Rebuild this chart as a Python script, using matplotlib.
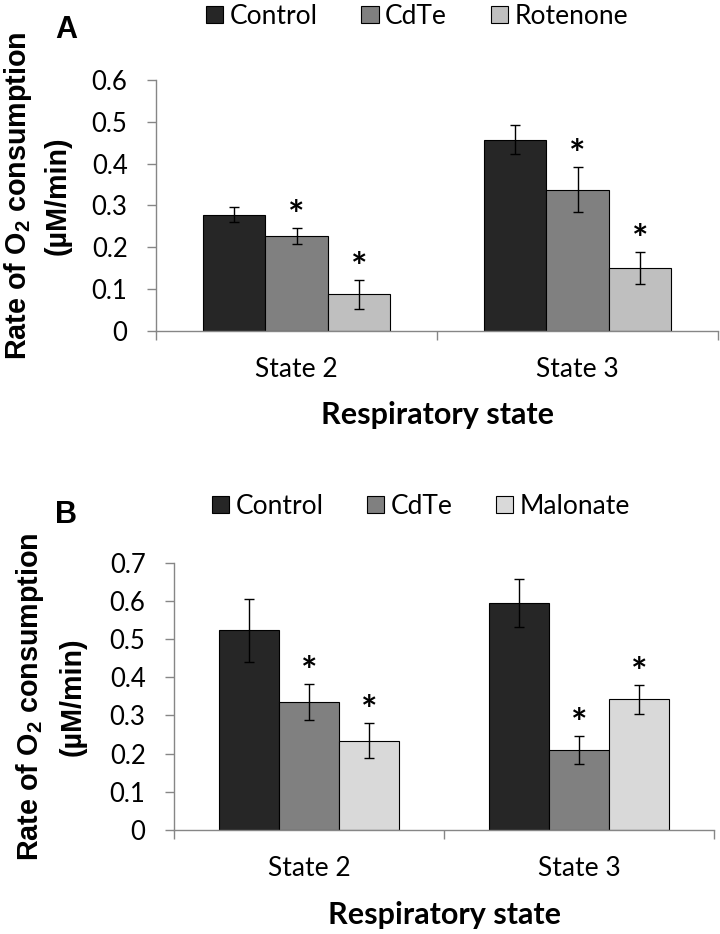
import numpy as np
import matplotlib
matplotlib.use('Agg')
import matplotlib.pyplot as plt

# ---------------- data ----------------
states = ['State 2', 'State 3']

names_a = ['Control', 'CdTe', 'Rotenone']
ctrl_a = [0.278, 0.457]
ctrl_a_err = [0.017, 0.035]
cdte_a = [0.227, 0.338]
cdte_a_err = [0.020, 0.055]
rot_a = [0.087, 0.150]
rot_a_err = [0.035, 0.038]
stars_a = [False, True, True]

names_b = ['Control', 'CdTe', 'Malonate']
ctrl_b = [0.523, 0.595]
ctrl_b_err = [0.083, 0.062]
cdte_b = [0.335, 0.209]
cdte_b_err = [0.048, 0.036]
mal_b = [0.234, 0.342]
mal_b_err = [0.046, 0.038]
stars_b = [False, True, True]

colors_a = ['#262626', '#808080', '#bfbfbf']
colors_b = ['#262626', '#808080', '#d9d9d9']

plt.rcParams['font.family'] = ['Lato', 'DejaVu Sans']
plt.rcParams['mathtext.fontset'] = 'custom'
plt.rcParams['mathtext.bf'] = 'Liberation Sans:bold'
plt.rcParams['mathtext.rm'] = 'Liberation Sans:bold'
plt.rcParams['mathtext.default'] = 'bf'

AXIS_GREY = '#868686'


def draw_panel(ax, vals, errs, names, colors, stars, ymax):
	x = np.arange(len(states))
	w = 0.222
	for i in range(len(vals)):
		pos = x + (i - 1) * w
		ax.bar(pos, vals[i], w, yerr=errs[i], color=colors[i], edgecolor='black',
		       linewidth=0.8, capsize=3.6, label=names[i],
		       error_kw=dict(elinewidth=1.0, capthick=1.0, ecolor='black'))
		# significance marks above the error bars
		if stars[i]:
			for p, v, e in zip(pos, vals[i], errs[i]):
				ax.annotate('*', (p, v + e), xytext=(0, 0), textcoords='offset points',
				            ha='center', va='baseline', fontsize=28, fontweight='bold')
	ax.set_xlim(-0.5, 1.5)
	ax.set_ylim(0, ymax)
	yt = np.round(np.arange(0, ymax + 0.001, 0.1), 1)
	ax.set_yticks(yt)
	ax.set_yticklabels(['%g' % v for v in yt])
	# category boundary ticks + centred labels
	ax.set_xticks([-0.5, 0.5, 1.5])
	ax.set_xticklabels([])
	ax.set_xticks(x, minor=True)
	ax.set_xticklabels(states, minor=True)
	ax.tick_params(axis='x', which='major', direction='out', length=6.5, width=1, color=AXIS_GREY)
	ax.tick_params(axis='x', which='minor', length=0, pad=19, labelsize=19)
	ax.tick_params(axis='y', direction='out', length=6.5, width=1, color=AXIS_GREY,
	               pad=14, labelsize=18.5)
	for s in ['top', 'right']:
		ax.spines[s].set_visible(False)
	for s in ['left', 'bottom']:
		ax.spines[s].set_color(AXIS_GREY)
		ax.spines[s].set_linewidth(1.0)
	ax.set_xlabel('Respiratory state', fontsize=22, fontweight='bold')
	ax.xaxis.label.set_va('center')


fig = plt.figure(figsize=(7.2, 9.34), dpi=100)

leg_kw = dict(loc='center', bbox_transform=fig.transFigure, ncol=3, frameon=False,
              fontsize=19, handlelength=0.65, handleheight=0.62, handletextpad=0.25,
              columnspacing=1.65, borderaxespad=0)

# ---------- panel A ----------
axA = fig.add_axes([0.2167, 0.6459, 0.7806, 0.2684])
draw_panel(axA, [ctrl_a, cdte_a, rot_a], [ctrl_a_err, cdte_a_err, rot_a_err],
           names_a, colors_a, stars_a, 0.6)
axA.xaxis.set_label_coords(0.5, -0.335)
axA.legend(bbox_to_anchor=(417 / 720, 1 - 16 / 934), **leg_kw)

# ---------- panel B ----------
axB = fig.add_axes([0.2417, 0.1113, 0.75, 0.2862])
draw_panel(axB, [ctrl_b, cdte_b, mal_b], [ctrl_b_err, cdte_b_err, mal_b_err],
           names_b, colors_b, stars_b, 0.7)
axB.xaxis.set_label_coords(0.5, -0.318)
axB.legend(bbox_to_anchor=(421 / 720, 1 - 506 / 934), **leg_kw)

# y labels (two lines each) and panel letters
ylab1 = 'Rate of O$_2$ consumption'
ylab2 = '(\u00b5M/min)'
for x1, x2, yc in [(18, 58, 196), (30, 73, 697)]:
	fig.text(x1 / 720, 1 - yc / 934, ylab1, rotation=90, ha='center', va='center',
	         fontsize=20.7, fontweight='bold', family='Liberation Sans')
	fig.text(x2 / 720, 1 - yc / 934, ylab2, rotation=90, ha='center', va='center',
	         fontsize=20.7, fontweight='bold', family='Liberation Sans')

fig.text(66 / 720, 1 - 30 / 934, 'A', ha='center', va='center', fontsize=22,
         fontweight='bold', family='Liberation Sans')
fig.text(66 / 720, 1 - 515 / 934, 'B', ha='center', va='center', fontsize=22,
         fontweight='bold', family='Liberation Sans')

fig.savefig('out.png', dpi=100)
